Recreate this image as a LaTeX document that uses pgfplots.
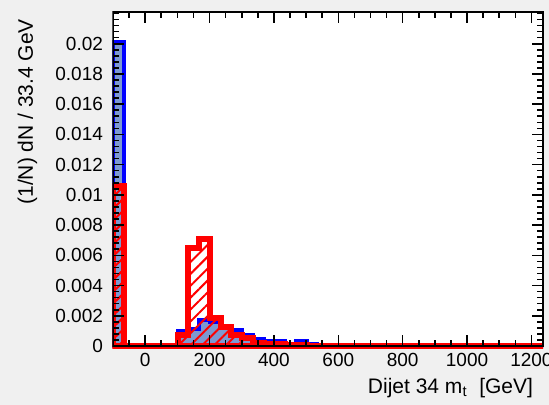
\documentclass[border=0pt]{standalone}
\usepackage{fontspec}
\setmainfont{Liberation Sans}
\usepackage{pgfplots}
\usepackage{pgfplotstable}
\pgfplotsset{compat=1.18}
\usetikzlibrary{patterns.meta}
\definecolor{histblue}{RGB}{125,153,209}
\definecolor{bggrey}{RGB}{240,240,240}

% left bin edge (33.4 GeV bins), normalised contents
\pgfplotstableread{
x      blue     red
-100   0.0201   0.0106
-66.6  0        0
100.4  0.00097  0.0007
133.8  0.0011   0.0065
167.2  0.0017   0.0071
200.6  0.0016   0.00187
234.0  0.0013   0.00127
267.4  0.00104  0.00072
300.8  0.00071  0.0005
334.2  0.00048  0.0002
367.6  0.00031  0.0001
401.0  0.00031  0.0001
434.4  0.00015  0.00005
467.8  0.00031  0.00005
501.2  0.00015  0
534.6  0        0
1236   0        0
}\hists

\begin{document}
\begin{tikzpicture}
\fill[bggrey] (-56.5pt,-29.5pt) rectangle (218pt,173pt);
\begin{scope}[even odd rule]
% keep the thick outlines from spilling left of the frame
\clip (-60pt,-40pt) rectangle (230pt,180pt)
  (-4pt,-4pt) rectangle (-0.35pt,171pt);
\begin{axis}[
  scale only axis,
  width=215pt, height=167pt,
  xmin=-100, xmax=1236,
  ymin=0, ymax=0.0221,
  clip=false,
  axis on top,
  axis background/.style={fill=white},
  axis line style={line width=0.7pt},
  tick align=inside,
  major tick length=5.5pt,
  minor tick length=3pt,
  every tick/.style={black, line width=0.8pt},
  xtick={0,200,...,1200},
  minor xtick={-50,0,...,1200},
  ytick={0,0.002,0.004,0.006,0.008,0.01,0.012,0.014,0.016,0.018,0.02},
  yticklabels={0,0.002,0.004,0.006,0.008,0.01,0.012,0.014,0.016,0.018,0.02},
  minor ytick={0,0.0004,...,0.0221},
  scaled y ticks=false,
  tick label style={font=\fontsize{9.5}{11}\selectfont},
  yticklabel style={xshift=-1.5pt},
  /pgf/number format/assume math mode=true,
  /pgf/number format/1000 sep={},
]
\addplot[const plot, fill=histblue, draw=blue, line width=2pt]
  table[x=x, y=blue] {\hists} \closedcycle;
\addplot[const plot, draw=red, line width=3pt,
  pattern={Lines[angle=45, distance=4.2pt, line width=1pt]}, pattern color=red]
  table[x=x, y=red] {\hists} \closedcycle;
\end{axis}
\end{scope}
\node[rotate=90, anchor=base east, font=\fontsize{10.5}{12}\selectfont]
  at (-40pt,167pt) {(1/N) dN / 33.4 GeV};
\node[anchor=base east, font=\fontsize{10.5}{12}\selectfont]
  at (213.5pt,-23.5pt) {Dijet 34 m\textsubscript{t}\ \ [GeV]};
\pgfresetboundingbox
\useasboundingbox (-56.5pt,-29.5pt) rectangle (218pt,173pt);
\end{tikzpicture}
\end{document}
